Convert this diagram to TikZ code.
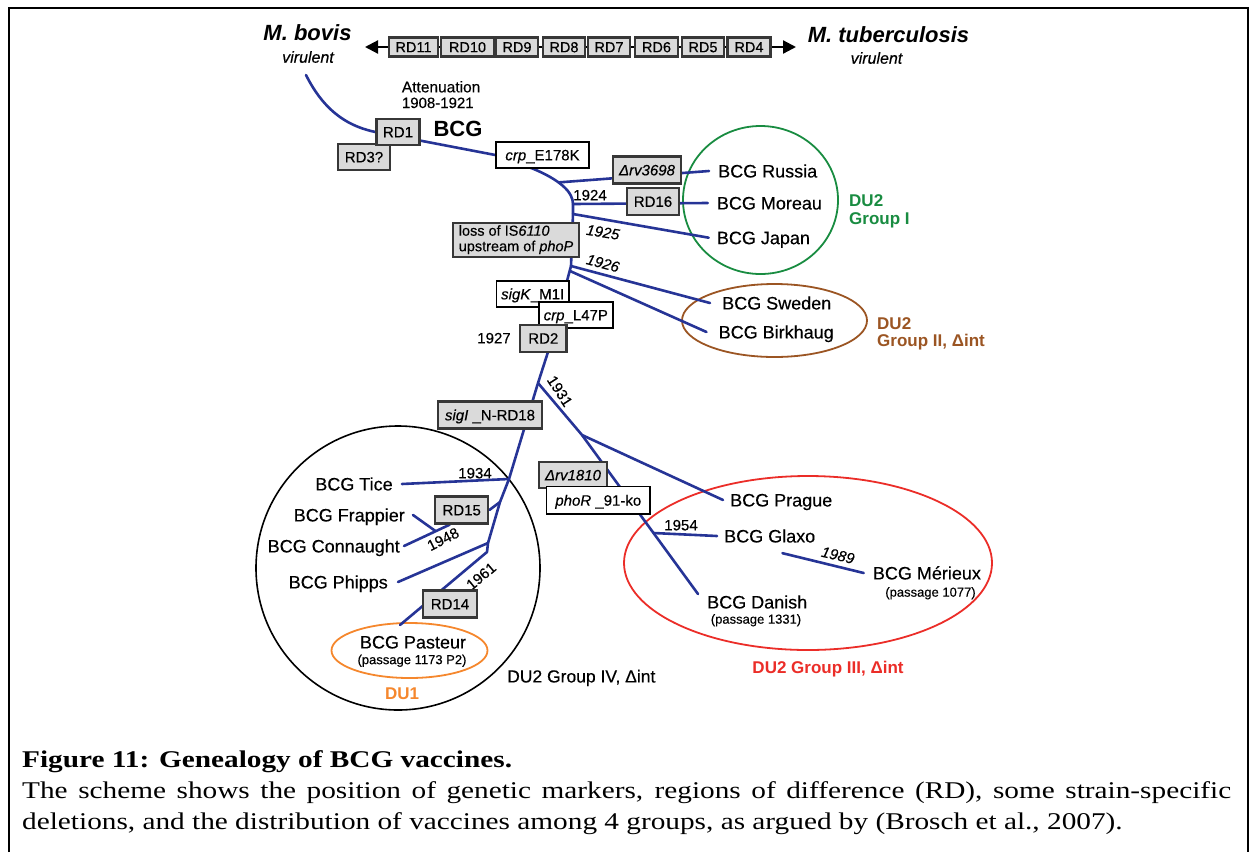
\documentclass[tikz,border=0pt]{standalone}
\usepackage{fontspec}
\setmainfont{Liberation Sans}[UprightFeatures={FakeBold=0.35}, ItalicFeatures={FakeBold=0.35}]
\newfontfamily\capfont[FakeStretch=1.22]{Liberation Serif}
\usetikzlibrary{arrows.meta,shapes.geometric}
\definecolor{lineblue}{RGB}{38,52,150}
\definecolor{boxgrey}{RGB}{218,218,218}
\definecolor{boxedge}{RGB}{55,55,55}
\definecolor{grpgreen}{RGB}{25,140,65}
\definecolor{grpbrown}{RGB}{155,85,35}
\definecolor{grpred}{RGB}{235,45,40}
\definecolor{grporange}{RGB}{245,135,45}
\newcommand{\fsz}[1]{\fontsize{#1}{#1}\selectfont}
\pgfdeclarelayer{ringlayer}
\pgfdeclarelayer{linelayer}
\pgfsetlayers{ringlayer,linelayer,main}
\begin{document}
\begin{tikzpicture}[x=1pt,y=-1pt,
  branch/.style={draw=lineblue, line width=2.6pt, line cap=round, line join=round},
  gbox/.style={draw=boxedge, fill=boxgrey, line width=2.3pt, inner sep=0pt, font=\fsz{15}, text height=10.7pt, text depth=0pt},
  wbox/.style={draw=black, fill=white, line width=1.4pt, inner sep=0pt, font=\fsz{15}, text height=10.7pt, text depth=0pt},
  rdbox/.style={gbox, minimum height=19pt, font=\fsz{14.5}, text height=10.4pt},
  ring/.style={ellipse, line width=1.8pt, inner sep=0pt},
  t18/.style={inner sep=0pt, font=\fsz{18}, text height=12.9pt, text depth=0pt},
  t15/.style={inner sep=0pt, font=\fsz{15}, text height=10.7pt, text depth=0pt},
  t13/.style={inner sep=0pt, font=\fsz{13}, text height=9.3pt, text depth=0pt},
  g17/.style={inner sep=0pt, font=\bfseries\fsz{17}, text height=12.2pt, text depth=0pt},
  capline/.style={anchor=base west, inner sep=0pt}
]
\useasboundingbox (0,0) rectangle (1249,852);
\draw[line width=2.2pt] (9,852) -- (9,8) -- (1248,8) -- (1248,852);

% ---------- group rings
\begin{pgfonlayer}{ringlayer}
\node[ring, draw=grpgreen, minimum width=155pt, minimum height=148pt] (ringI) at (760.5,200) {};
\node[ring, draw=grpbrown, minimum width=185pt, minimum height=73pt] (ringII) at (774.5,320.5) {};
\node[ring, draw=black, line width=1.6pt, minimum width=284pt, minimum height=284pt] (ringIV) at (398,568) {};
\node[ring, draw=grporange, minimum width=156pt, minimum height=55pt] (ringDU1) at (409.5,650.5) {};
\node[ring, draw=grpred, minimum width=368pt, minimum height=174pt] (ringIII) at (808,563) {};
\end{pgfonlayer}

% ---------- top row
\node[inner sep=0pt, font=\bfseries\itshape\fsz{22}] (mbovis) at (307.5,33) {M. bovis};
\node[inner sep=0pt, font=\itshape\fsz{16}] (virL) at (308,57) {virulent};
\node[inner sep=0pt, font=\bfseries\itshape\fsz{22}] (mtb) at (888.5,35) {M. tuberculosis};
\node[inner sep=0pt, font=\itshape\fsz{16}] (virR) at (876.5,58) {virulent};
\foreach \n/\x/\w in {RD11/413.5/49, RD10/467.5/53, RD9/517/42, RD8/564/42, RD7/609/42, RD6/656.5/43, RD5/703/42, RD4/749/43}
  \node[rdbox, minimum width=\w pt] (\n) at (\x,47) {\n};
\coordinate (arL) at (365,47);
\coordinate (arR) at (796,47);

% ---------- texts
\node[t15, font=\fsz{15.5}, anchor=west] (atten) at (401.7,87) {Attenuation};
\node[t15, anchor=west] (years0) at (401.7,102.7) {1908-1921};
\node[inner sep=0pt, font=\bfseries\fsz{22}, text height=15.8pt, text depth=0pt] (bcg) at (458,129) {BCG};

\node[t18, anchor=west] (russia) at (718,171) {BCG Russia};
\node[t18, anchor=west] (moreau) at (716.7,203) {BCG Moreau};
\node[t18, anchor=west] (japan) at (716.7,237.7) {BCG Japan};
\node[t18, anchor=west] (sweden) at (722,303) {BCG Sweden};
\node[t18, anchor=west] (birkhaug) at (718.5,332) {BCG Birkhaug};
\node[t18] (tice) at (354,484) {BCG Tice};
\node[t18, anchor=east] (frappier) at (405,515) {BCG Frappier};
\node[t18, anchor=east] (connaught) at (400,546) {BCG Connaught};
\node[t18, anchor=east] (phipps) at (388,582) {BCG Phipps};
\node[t18] (pasteur) at (413,642) {BCG Pasteur};
\node[t13] (passP) at (412,659.5) {(passage 1173 P2)};
\node[t18, anchor=west] (prague) at (730,500) {BCG Prague};
\node[t18, anchor=west] (glaxo) at (724,536) {BCG Glaxo};
\node[t18, anchor=west] (merieux) at (872.7,573) {BCG Mérieux};
\node[t13] (passM) at (930.5,592) {(passage 1077)};
\node[t18, anchor=west] (danish) at (707,602) {BCG Danish};
\node[t13] (passD) at (756,619) {(passage 1331)};

\node[g17, text=grpgreen, anchor=west] (du2a) at (849,200) {DU2};
\node[g17, text=grpgreen, anchor=west] (grpI) at (849,218) {Group I};
\node[g17, text=grpbrown, anchor=west] (du2b) at (877,323) {DU2};
\node[g17, text=grpbrown, anchor=west] (grpII) at (877,340) {Group II, Δint};
\node[g17, text=grpred] (grpIII) at (828,667) {DU2 Group III, Δint};
\node[g17, text=grporange] (du1) at (402,693) {DU1};
\node[t18, font=\fsz{17.5}, anchor=west] (grpIV) at (507,676) {DU2 Group IV, Δint};

% ---------- years
\node[t15] (y1924) at (590,195) {1924};
\node[t15, font=\itshape\fsz{15}, rotate=-9] (y1925) at (603,232) {1925};
\node[t15, font=\itshape\fsz{15}, rotate=-15] (y1926) at (603,263) {1926};
\node[t15] (y1927) at (494,338) {1927};
\node[t15, rotate=-57] (y1931) at (560,391) {1931};
\node[t15] (y1934) at (475,473) {1934};
\node[t15, rotate=27] (y1948) at (443,539) {1948};
\node[t15, rotate=40] (y1961) at (481,576) {1961};
\node[t15] (y1954) at (681,525) {1954};
\node[t15, font=\itshape\fsz{15}, rotate=-13] (y1989) at (838,555) {1989};

% ---------- marker boxes
\node[gbox, minimum width=52pt, minimum height=26pt] (rd3) at (364,157) {RD3?};
\node[gbox, minimum width=43pt, minimum height=26pt] (rd1) at (398,132) {RD1};
\node[wbox, minimum width=93pt, minimum height=26pt] (crp1) at (542.5,155) {\textit{crp}\_E178K};
\node[gbox, minimum width=68pt, minimum height=27pt] (rv3698) at (647,170) {\textit{Δrv3698}};
\node[gbox, minimum width=52pt, minimum height=27pt] (rd16) at (653,201.5) {RD16};
\node[draw=boxedge, fill=boxgrey, line width=2.3pt, inner sep=0pt, minimum width=126pt, minimum height=34pt, align=left, font={\fontsize{14.5}{15.5}\selectfont}] (loss) at (516,239.7) {loss of IS\textit{6110}\\upstream of \textit{phoP}};
\node[wbox, minimum width=72.5pt, minimum height=26pt] (sigk) at (532.7,294) {\textit{sigK}\_M1I};
\node[wbox, minimum width=74pt, minimum height=26pt] (crp2) at (575.8,315) {\textit{crp}\_L47P};
\node[gbox, minimum width=46.6pt, minimum height=26.7pt] (rd2) at (543.3,338.3) {RD2};
\node[gbox, minimum width=104pt, minimum height=27pt] (sigi) at (490,415) {\textit{sigI} \_N-RD18};
\node[gbox, minimum width=53pt, minimum height=27pt] (rd15) at (461.7,510) {RD15};
\node[gbox, minimum width=53.7pt, minimum height=27pt] (rd14) at (450,604) {RD14};
\node[gbox, minimum width=67.7pt, minimum height=26.6pt] (rv1810) at (573,475) {\textit{Δrv1810}};
\node[wbox, minimum width=103.3pt, minimum height=27.3pt] (phor) at (598.3,500.3) {\textit{phoR} \_91-ko};

% ---------- junctions
\coordinate (start) at (306,75);
\coordinate (jRu) at (558.7,182.4);
\coordinate (jMo) at (573,204);
\coordinate (jJa) at (573,214);
\coordinate (jSw) at (571,266);
\coordinate (jBi) at (570,271);
\coordinate (jRD2) at (548,352);
\coordinate (j31) at (538,383);
\coordinate (jTi) at (509,479);
\coordinate (jRD15) at (500,502);
\coordinate (jPh) at (488,543);
\coordinate (jPa) at (487,552);
\coordinate (endPa) at (400,625);
\coordinate (jFr) at (435,530.7);
\coordinate (jPr) at (582,435);
\coordinate (jGl) at (653.5,533);
\coordinate (endDa) at (698,594);

\begin{pgfonlayer}{linelayer}
\draw[line width=2.2pt, {Triangle[length=13pt,width=13pt]}-{Triangle[length=13pt,width=13pt]}] (arL) -- (arR);
\draw[branch] (start) .. controls (326,115) and (352,127) .. (rd1.west) -- (crp1.west)
  -- ([xshift=-9.5pt]crp1.south) .. controls (560,180) and (573,192) .. (jMo)
  -- (jJa) -- (jSw) -- (jRD2) -- (j31) -- (jTi) -- (jRD15) -- (jPh) -- (jPa) -- (endPa);
\draw[branch] (jRu) -- ([xshift=-9pt]russia.west);
\draw[branch] (jMo) -- ([xshift=-9pt]moreau.west);
\draw[branch] (jJa) -- ([xshift=-8pt]japan.west);
\draw[branch] (jSw) -- ([xshift=-12pt]sweden.west);
\draw[branch] (jBi) -- ([xshift=-12pt]birkhaug.west);
\draw[branch] (jTi) -- ([xshift=9pt]tice.east);
\draw[branch] (jRD15) -- (rd15.east);
\draw[branch] ([xshift=-12pt]rd15.south) -- ([xshift=4pt]connaught.east);
\draw[branch] ([xshift=8pt]frappier.east) -- (jFr);
\draw[branch] (jPh) -- ([xshift=10pt]phipps.east);
\draw[branch] (j31) -- (jPr) -- (endDa);
\draw[branch] (jPr) -- ([xshift=-7pt]prague.west);
\draw[branch] (jGl) -- ([xshift=-7pt]glaxo.west);
\draw[branch] ([xshift=12.7pt,yshift=-10.5pt]glaxo.south) -- ([xshift=-9pt]merieux.west);
\end{pgfonlayer}

% ---------- caption
\node[capline, font=\capfont\bfseries\fsz{24}] (cap1) at (22,767) {Figure 11: Genealogy of BCG vaccines.};
\node[capline, font=\capfont\fsz{24}] (cap2) at (22,798) {\makebox[1209pt][s]{The scheme shows the position of genetic markers, regions of difference (RD), some strain-specific}};
\node[capline, font=\capfont\fsz{24}] (cap3) at (22,829) {deletions, and the distribution of vaccines among 4 groups, as argued by (Brosch et al., 2007).};
\end{tikzpicture}
\end{document}
